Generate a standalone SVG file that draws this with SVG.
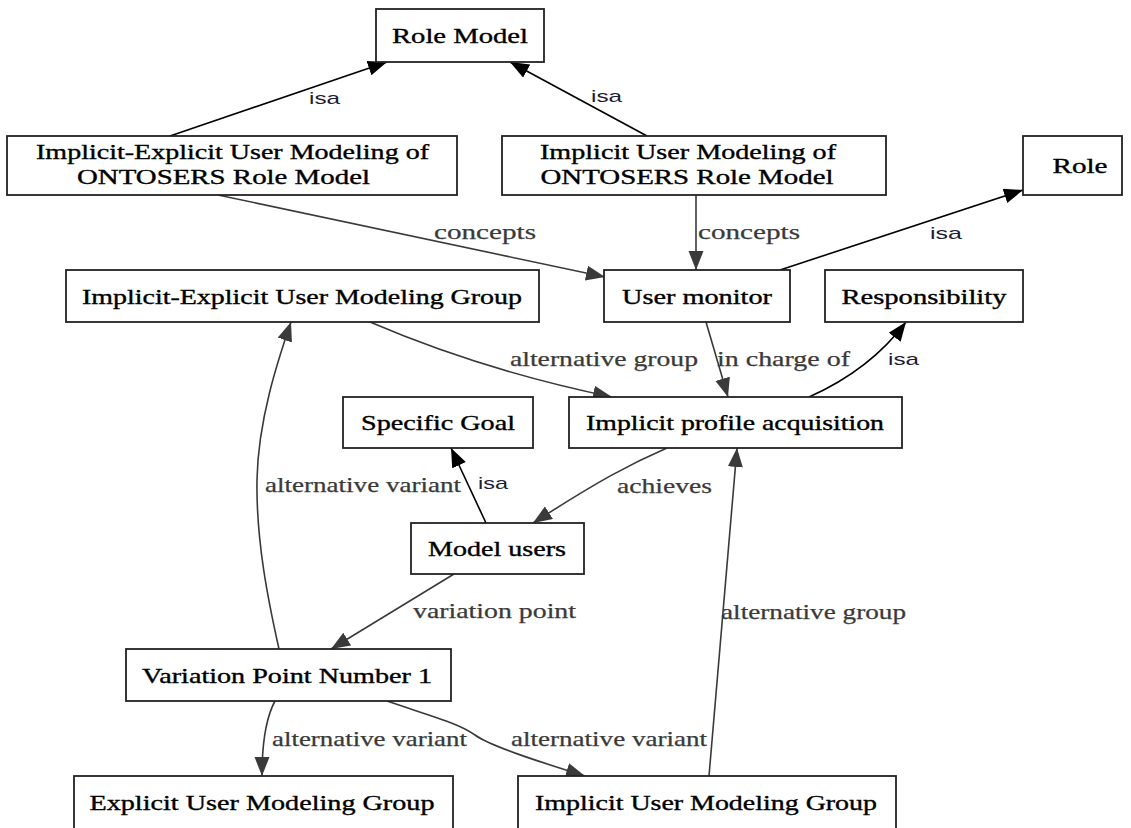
<svg xmlns="http://www.w3.org/2000/svg" width="1131" height="828" viewBox="0 0 1131 828">
  <style>
    .box { fill: #ffffff; stroke: #222222; stroke-width: 1.8; }
    .nl { font-family: "Liberation Serif", "Times New Roman", serif; font-size: 21px; fill: #000000; stroke: #000000; stroke-width: 0.35; text-anchor: middle; }
    .el { font-family: "Liberation Serif", "Times New Roman", serif; font-size: 21px; fill: #3a3a3a; stroke: #3a3a3a; stroke-width: 0.25; }
    .isa { font-family: "Liberation Sans", Arial, sans-serif; font-size: 17px; fill: #1c1c34; }
    .e { fill: none; stroke: #3a3a3a; stroke-width: 1.6; marker-end: url(#ahGray); }
    .ei { fill: none; stroke: #000000; stroke-width: 1.6; marker-end: url(#ahBlack); }
  </style>
  <defs>
    <marker id="ahGray" markerUnits="userSpaceOnUse" markerWidth="22" markerHeight="18" refX="19" refY="7.5" orient="auto">
      <path d="M0,0 L19,7.5 L0,15 Z" fill="#3a3a3a"/>
    </marker>
    <marker id="ahBlack" markerUnits="userSpaceOnUse" markerWidth="22" markerHeight="18" refX="19" refY="7.5" orient="auto">
      <path d="M0,0 L19,7.5 L0,15 Z" fill="#000000"/>
    </marker>
  </defs>
  <rect width="1131" height="828" fill="#ffffff"/>

  <!-- connectors -->
  <g id="edges">
    <path class="ei" d="M170,136 L387,62"/>
    <text class="isa" x="309" y="104" textLength="31" lengthAdjust="spacingAndGlyphs">isa</text>

    <path class="ei" d="M647,136 L510,62"/>
    <text class="isa" x="591" y="102" textLength="31" lengthAdjust="spacingAndGlyphs">isa</text>

    <path class="e" d="M218,195 L605,277"/>
    <text class="el" x="434" y="239" textLength="102" lengthAdjust="spacingAndGlyphs">concepts</text>

    <path class="e" d="M696,195 L696,270"/>
    <text class="el" x="698" y="239" textLength="102" lengthAdjust="spacingAndGlyphs">concepts</text>

    <path class="ei" d="M780,270 L1023,190"/>
    <text class="isa" x="930" y="239" textLength="32" lengthAdjust="spacingAndGlyphs">isa</text>

    <path class="e" d="M370,322 C440,352 520,378 612,397"/>
    <text class="el" x="510" y="366" textLength="188" lengthAdjust="spacingAndGlyphs">alternative group</text>

    <path class="e" d="M706,322 L728,397"/>
    <text class="el" x="717" y="366" textLength="133" lengthAdjust="spacingAndGlyphs">in charge of</text>

    <path class="ei" d="M809,397 Q870,370 906,322"/>
    <text class="isa" x="888" y="365" textLength="31" lengthAdjust="spacingAndGlyphs">isa</text>

    <path class="e" d="M667,448 C630,464 600,480 533,523"/>
    <text class="el" x="617" y="493" textLength="95" lengthAdjust="spacingAndGlyphs">achieves</text>

    <path class="ei" d="M486,523 L451,448"/>
    <text class="isa" x="478" y="489" textLength="30" lengthAdjust="spacingAndGlyphs">isa</text>

    <path class="e" d="M279,649 C268,600 256,540 257,480 C258,420 278,360 291,322"/>
    <text class="el" x="265" y="492" textLength="196" lengthAdjust="spacingAndGlyphs">alternative variant</text>

    <path class="e" d="M454,574 L331,649"/>
    <text class="el" x="413" y="618" textLength="163" lengthAdjust="spacingAndGlyphs">variation point</text>

    <path class="e" d="M275,701 Q262,725 262,776"/>
    <text class="el" x="272" y="746" textLength="195" lengthAdjust="spacingAndGlyphs">alternative variant</text>

    <path class="e" d="M387,701 C440,719 460,724 475,735 C490,746 540,762 585,776"/>
    <text class="el" x="511" y="746" textLength="196" lengthAdjust="spacingAndGlyphs">alternative variant</text>

    <path class="e" d="M709,776 L737,448"/>
    <text class="el" x="721" y="619" textLength="185" lengthAdjust="spacingAndGlyphs">alternative group</text>
  </g>

  <!-- nodes -->
  <g id="role_model">
    <rect class="box" x="376" y="9" width="168" height="53"/>
    <text class="nl" x="460" y="43" textLength="136" lengthAdjust="spacingAndGlyphs">Role Model</text>
  </g>
  <g id="ie_ontosers_role_model">
    <rect class="box" x="7" y="136" width="450" height="59"/>
    <text class="nl" x="232.5" y="159" textLength="393" lengthAdjust="spacingAndGlyphs">Implicit-Explicit User Modeling of</text>
    <text class="nl" x="223.5" y="184" textLength="293" lengthAdjust="spacingAndGlyphs">ONTOSERS Role Model</text>
  </g>
  <g id="i_ontosers_role_model">
    <rect class="box" x="502" y="136" width="384" height="59"/>
    <text class="nl" x="688" y="159" textLength="296" lengthAdjust="spacingAndGlyphs">Implicit User Modeling of</text>
    <text class="nl" x="687" y="184" textLength="293" lengthAdjust="spacingAndGlyphs">ONTOSERS Role Model</text>
  </g>
  <g id="role">
    <rect class="box" x="1023" y="136" width="99" height="59"/>
    <text class="nl" x="1080" y="173" textLength="55" lengthAdjust="spacingAndGlyphs">Role</text>
  </g>
  <g id="ie_group">
    <rect class="box" x="66" y="270" width="473" height="52"/>
    <text class="nl" x="302" y="304" textLength="440" lengthAdjust="spacingAndGlyphs">Implicit-Explicit User Modeling Group</text>
  </g>
  <g id="user_monitor">
    <rect class="box" x="604" y="270" width="186" height="52"/>
    <text class="nl" x="697" y="304" textLength="150" lengthAdjust="spacingAndGlyphs">User monitor</text>
  </g>
  <g id="responsibility">
    <rect class="box" x="825" y="270" width="198" height="52"/>
    <text class="nl" x="924" y="304" textLength="165" lengthAdjust="spacingAndGlyphs">Responsibility</text>
  </g>
  <g id="specific_goal">
    <rect class="box" x="343" y="397" width="190" height="51"/>
    <text class="nl" x="438" y="430" textLength="154" lengthAdjust="spacingAndGlyphs">Specific Goal</text>
  </g>
  <g id="implicit_profile_acquisition">
    <rect class="box" x="569" y="397" width="333" height="51"/>
    <text class="nl" x="735" y="430" textLength="298" lengthAdjust="spacingAndGlyphs">Implicit profile acquisition</text>
  </g>
  <g id="model_users">
    <rect class="box" x="411" y="523" width="173" height="51"/>
    <text class="nl" x="497" y="556" textLength="138" lengthAdjust="spacingAndGlyphs">Model users</text>
  </g>
  <g id="variation_point_1">
    <rect class="box" x="126" y="649" width="325" height="52"/>
    <text class="nl" x="287" y="683" textLength="290" lengthAdjust="spacingAndGlyphs">Variation Point Number 1</text>
  </g>
  <g id="explicit_group">
    <rect class="box" x="74" y="776" width="379" height="53"/>
    <text class="nl" x="262" y="810" textLength="345" lengthAdjust="spacingAndGlyphs">Explicit User Modeling Group</text>
  </g>
  <g id="implicit_group">
    <rect class="box" x="518" y="776" width="378" height="53"/>
    <text class="nl" x="706" y="810" textLength="342" lengthAdjust="spacingAndGlyphs">Implicit User Modeling Group</text>
  </g>
</svg>
